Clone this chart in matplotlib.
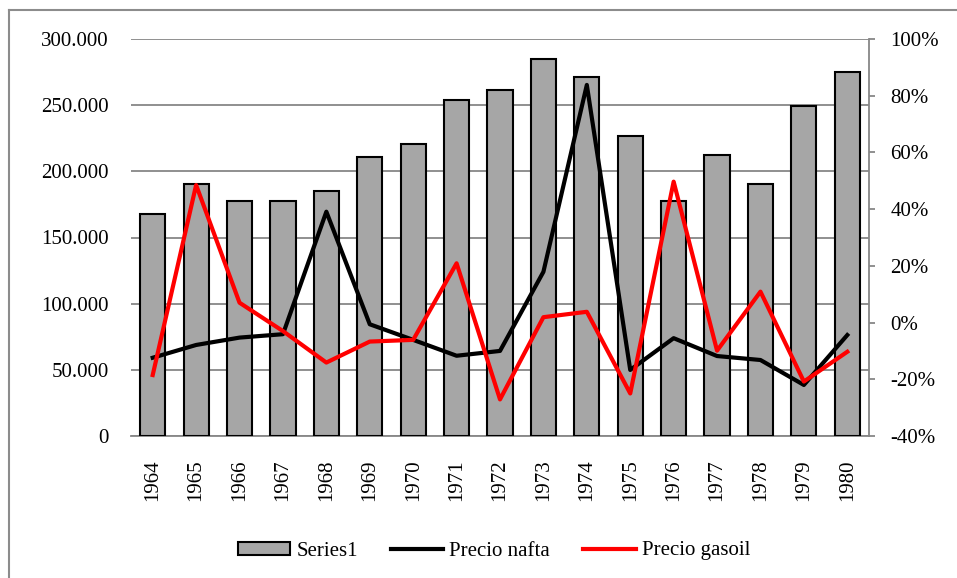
import numpy as np
import matplotlib
matplotlib.use("Agg")
import matplotlib.pyplot as plt
from matplotlib.patches import Patch
from matplotlib.lines import Line2D
from matplotlib.ticker import FuncFormatter, MultipleLocator

plt.rcParams['font.family'] = ['Liberation Serif', 'DejaVu Serif']

years = [str(y) for y in range(1964, 1981)]
series1 = [167500, 190500, 177500, 177500, 185000, 210700, 220500, 253800, 261500,
           285000, 271000, 226600, 177500, 212000, 190600, 249500, 275000]
precio_nafta = [-12.4, -7.9, -5.3, -4.1, 39.1, -0.6, -6.1, -11.7, -10.0,
                17.9, 83.8, -16.7, -5.5, -11.8, -13.2, -22.0, -4.4]
precio_gasoil = [-18.5, 48.5, 7.0, -3.0, -14.1, -6.7, -6.1, 20.9, -27.1,
                 1.9, 3.8, -25.0, 49.7, -9.9, 10.9, -20.8, -10.3]

grid_col = '#878787'
fs = 15

fig = plt.figure(figsize=(9.57, 5.78), dpi=100)
W, H = 957, 578
ax = fig.add_axes([131 / W, 1 - 436 / H, (869 - 131) / W, (436 - 39) / H])

x = np.arange(len(years))
ax.bar(x, series1, width=0.58, color='#A6A6A6', edgecolor='black', linewidth=1.5, zorder=3)
ax.set_xlim(-0.5, len(years) - 0.5)
ax.set_ylim(0, 300000)
ax.yaxis.set_major_locator(MultipleLocator(50000))
ax.yaxis.set_major_formatter(FuncFormatter(lambda v, p: '0' if v == 0 else f'{int(v):,}'.replace(',', '.')))
ax.grid(axis='y', color=grid_col, linewidth=1.3, zorder=0)
ax.set_axisbelow(True)
for s in ['left', 'top', 'right']:
    ax.spines[s].set_visible(False)
ax.spines['bottom'].set_color(grid_col)
ax.spines['bottom'].set_linewidth(1.3)
ax.set_xticks(x)
ax.set_xticklabels(years, rotation=90, fontsize=fs)
ax.tick_params(axis='x', length=0, pad=17)
ax.tick_params(axis='y', length=0, pad=16, labelsize=fs)

ax2 = ax.twinx()
ax2.plot(x, precio_nafta, color='black', linewidth=3.0, zorder=4)
ax2.plot(x, precio_gasoil, color='#FF0000', linewidth=3.0, zorder=5)
ax2.set_ylim(-40, 100)
ax2.yaxis.set_major_locator(MultipleLocator(20))
ax2.yaxis.set_major_formatter(FuncFormatter(lambda v, p: f'{int(round(v))}%'))
for s in ['left', 'top', 'bottom']:
    ax2.spines[s].set_visible(False)
ax2.spines['right'].set_color(grid_col)
ax2.spines['right'].set_linewidth(1.3)
ax2.tick_params(axis='y', direction='out', length=4.5, width=1.3, color=grid_col,
                pad=11, labelsize=fs)

# outer chart frame
fig.add_artist(Line2D([9 / W, 9 / W], [0, 1 - 10 / H], transform=fig.transFigure,
                      color='#8c8c8c', linewidth=1.5))
fig.add_artist(Line2D([9 / W, 1], [1 - 10 / H, 1 - 10 / H], transform=fig.transFigure,
                      color='#8c8c8c', linewidth=1.5))

handles = [Patch(facecolor='#A6A6A6', edgecolor='black', linewidth=1.5),
           Line2D([], [], color='black', linewidth=3.0),
           Line2D([], [], color='#FF0000', linewidth=3.0)]
fig.legend(handles, ['Series1', 'Precio nafta', 'Precio gasoil'], ncol=3,
           loc='center', bbox_to_anchor=(494 / W, 1 - 551 / H), frameon=False,
           fontsize=fs, handlelength=2.5, handleheight=0.6, handletextpad=0.3,
           columnspacing=1.6)

fig.savefig('out.png', dpi=100)
